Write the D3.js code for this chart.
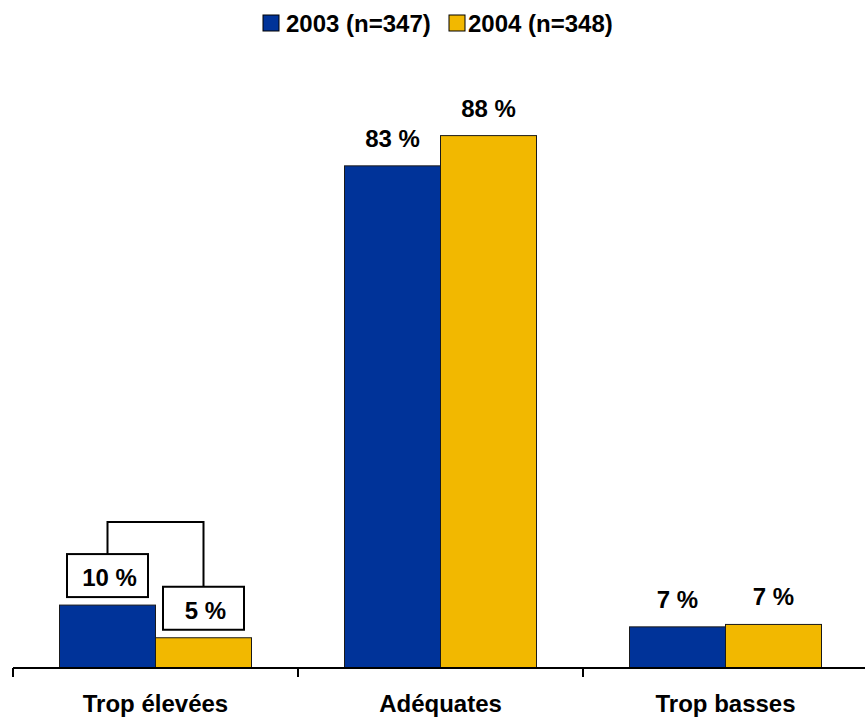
<!DOCTYPE html>
<html>
<head>
<meta charset="utf-8">
<script src="https://cdn.jsdelivr.net/npm/d3@7"></script>
<style>
  html, body { margin: 0; padding: 0; background: #fff; }
  svg { display: block; font-family: "Liberation Sans", Arial, sans-serif; font-weight: bold; }
</style>
</head>
<body>
<svg id="chart" width="865" height="717"></svg>
<script>
// Appréciation des tarifs, 2003 vs 2004 (en %)
const categories = ["Trop élevées", "Adéquates", "Trop basses"];
const seriesNames = ["2003 (n=347)", "2004 (n=348)"];
const values2003 = [10.4, 83, 6.8];
const values2004 = [5.0, 88, 7.2];
const colors = ["#003399", "#F2B800"];
// Catégories où l'écart entre années est signalé (étiquettes encadrées + crochet)
const flagged = ["Trop élevées"];

const svg = d3.select("#chart");
const margin = { left: 13, right: -3, top: 63, bottom: 49 };
const W = 865, H = 717;
const fontSize = 24;

const x = d3.scaleBand().domain(categories).range([margin.left, W - margin.right]).padding(0);
const groupW = 192;
const xs = d3.scaleBand().domain(seriesNames).range([0, groupW]).padding(0);
const y = d3.scaleLinear().domain([0, 100]).range([H - margin.bottom, margin.top]);
const y0 = y(0);
const fmt = v => d3.format(".0f")(v) + " %";

const series = seriesNames.map((name, i) => ({
  name, color: colors[i],
  values: categories.map((c, j) => ({ cat: c, name, v: (i === 0 ? values2003 : values2004)[j] }))
}));

// Légende
const legend = svg.append("g");
const legendPos = [[263, 286], [449, 468]];
seriesNames.forEach((n, i) => {
  legend.append("rect").attr("x", legendPos[i][0]).attr("y", 15).attr("width", 16).attr("height", 16)
    .attr("fill", colors[i]).attr("stroke", "#000").attr("stroke-width", 1);
  legend.append("text").attr("x", legendPos[i][1]).attr("y", 32).attr("font-size", fontSize).attr("fill", "#000").text(n);
});

// Barres
const barX = d => x(d.cat) + (x.bandwidth() - groupW) / 2 + xs(d.name);
const bars = svg.append("g");
series.forEach(s => {
  bars.selectAll(null).data(s.values).join("rect")
    .attr("x", barX)
    .attr("y", d => y(d.v))
    .attr("width", xs.bandwidth())
    .attr("height", d => y0 - y(d.v))
    .attr("fill", s.color)
    .attr("stroke", "#1a1a1a").attr("stroke-width", 1);
});

// Axe horizontal
const axis = svg.append("g").attr("transform", `translate(0,${y0})`)
  .call(d3.axisBottom(x).tickSize(0).tickFormat(""));
axis.select(".domain").remove();
axis.append("line").attr("x1", margin.left).attr("x2", W).attr("y1", 0).attr("y2", 0)
  .attr("stroke", "#000").attr("stroke-width", 2);
const bounds = categories.map(c => x(c)).concat([x(categories[categories.length - 1]) + x.bandwidth()]);
axis.selectAll(".sep").data(bounds).join("line")
  .attr("x1", d => d).attr("x2", d => d).attr("y1", 0).attr("y2", 9)
  .attr("stroke", "#000").attr("stroke-width", 2);
axis.selectAll(".cat").data(categories).join("text")
  .attr("x", d => x(d) + x.bandwidth() / 2).attr("y", 44)
  .attr("text-anchor", "middle").attr("font-size", fontSize).attr("fill", "#000").text(d => d);

// Étiquettes de valeurs
const labels = svg.append("g");
series.forEach(s => {
  s.values.filter(d => !flagged.includes(d.cat)).forEach(d => {
    labels.append("text")
      .attr("x", barX(d) + xs.bandwidth() / 2).attr("y", y(d.v) - 19)
      .attr("text-anchor", "middle").attr("font-size", fontSize).attr("fill", "#000").text(fmt(d.v));
  });
});

// Étiquettes encadrées et crochet de comparaison
const boxW = 81, boxH = 43, gap = 8;
flagged.forEach(cat => {
  const pts = series.map(s => s.values.find(d => d.cat === cat));
  const boxes = pts.map(d => {
    const cx = barX(d) + xs.bandwidth() / 2;
    const bottom = y(d.v) - gap;
    return { cx, top: bottom - boxH, bottom, d };
  });
  const bracketTop = Math.min(...boxes.map(b => b.top)) - 32;
  labels.append("path")
    .attr("d", `M${boxes[0].cx},${boxes[0].top}V${bracketTop}H${boxes[1].cx}V${boxes[1].top}`)
    .attr("fill", "none").attr("stroke", "#000").attr("stroke-width", 2);
  boxes.forEach(b => {
    labels.append("rect").attr("x", b.cx - boxW / 2).attr("y", b.top).attr("width", boxW).attr("height", boxH)
      .attr("fill", "#fff").attr("stroke", "#000").attr("stroke-width", 2);
    labels.append("text").attr("x", b.cx + 2).attr("y", b.bottom - 11)
      .attr("text-anchor", "middle").attr("font-size", fontSize).attr("fill", "#000").text(fmt(b.d.v));
  });
});
</script>
</body>
</html>
